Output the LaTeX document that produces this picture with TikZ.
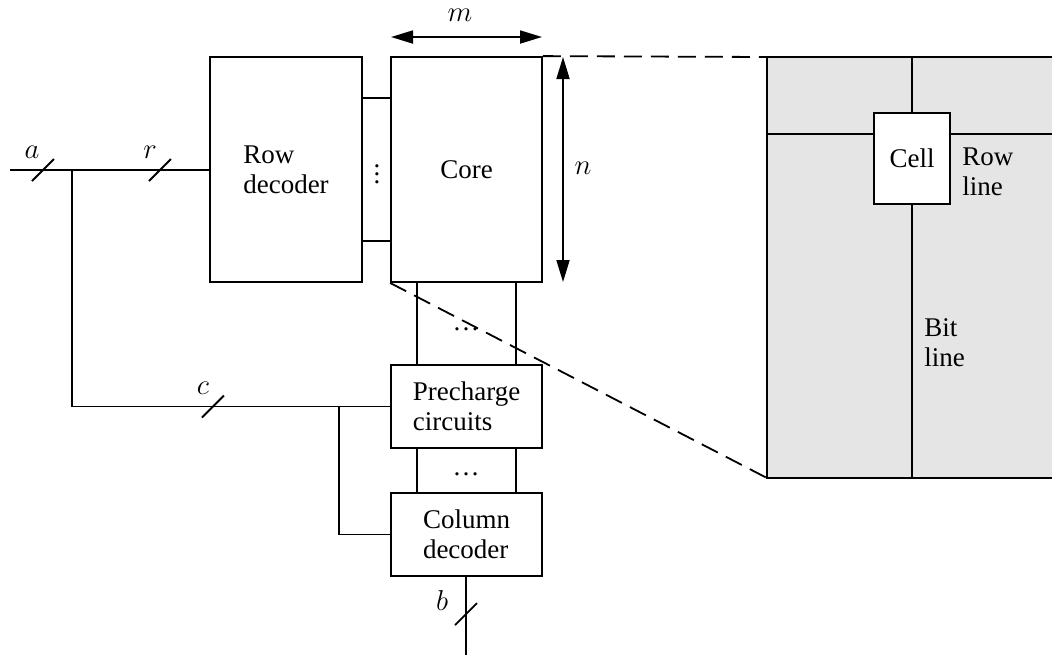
\documentclass[tikz,border=0pt]{standalone}
\usepackage{fontspec}
\setmainfont{Liberation Serif}
\usetikzlibrary{arrows.meta}
\tikzset{
  blk/.style={draw, line width=0.9pt, fill=white, inner sep=0pt, align=left, font=\fontsize{13.5}{15}\selectfont},
  wire/.style={line width=0.9pt},
  dim/.style={line width=0.9pt, {Triangle[length=11pt,width=6.5pt]}-{Triangle[length=11pt,width=6.5pt]}},
  zoomline/.style={line width=0.9pt, dash pattern=on 9pt off 4.5pt},
  lbl/.style={font=\fontsize{13.5}{15}\selectfont, inner sep=0pt},
  bus/.pic={\draw[line width=0.9pt] (-11,11) -- (11,-11);}
}
\begin{document}
\begin{tikzpicture}[x=0.5pt,y=-0.5pt]
\useasboundingbox (0,0) rectangle (1052,655);

% enlarged core area
\fill[gray!20] (767,57) rectangle (1052,478);
\draw[wire] (1052,57) -- (767,57) -- (767,478) -- (1052,478);
\node[blk, minimum width=38pt, minimum height=45.5pt, align=center] (cell) at (912,158.5) {Cell};
\coordinate (ctop) at (912,57);
\coordinate (cbot) at (912,478);
\coordinate (rl) at (767,134);
\coordinate (rr) at (1052,134);
\draw[wire] (ctop) -- (cell.north);
\draw[wire] (cell.south) -- (cbot);
\draw[wire] (rl) -- (rl -| cell.west);
\draw[wire] (rr -| cell.east) -- (rr);
\node[lbl, anchor=west, align=left] (rowline) at (962,172) {Row\\line};
\node[lbl, anchor=west, align=left] (bitline) at (924,343) {Bit\\line};

% blocks
\node[blk, minimum width=76pt, minimum height=112.5pt] (rowdec) at (286,169.5) {Row\\decoder};
\node[blk, minimum width=75.5pt, minimum height=112.5pt] (core) at (466.5,169.5) {Core};
\node[blk, minimum width=75.5pt, minimum height=41.5pt] (prech) at (466.5,406.5) {Precharge\\circuits};
\node[blk, minimum width=75.5pt, minimum height=41.5pt] (coldec) at (466.5,534.5) {Column\\decoder};

% zoom lines
\coordinate (gtl) at (767,57);
\coordinate (gbl) at (767,478);
\draw[zoomline] (core.north east) -- (gtl);
\draw[zoomline] (core.south west) -- (gbl);

% row decoder to core
\draw[wire] (rowdec.east |- 0,98) -- (core.west |- 0,98);
\draw[wire] (rowdec.east |- 0,241) -- (core.west |- 0,241);
\node[lbl] (vd) at (377,168) {$\vdots$};

% core to precharge, precharge to column decoder
\draw[wire] (core.south -| 417,0) -- (prech.north -| 417,0);
\draw[wire] (core.south -| 516,0) -- (prech.north -| 516,0);
\draw[wire] (prech.south -| 417,0) -- (coldec.north -| 417,0);
\draw[wire] (prech.south -| 516,0) -- (coldec.north -| 516,0);
\node[lbl] (d1) at (466,329) {\dots};
\node[lbl] (d2) at (466,474) {\dots};

% dimensions
\coordinate (ml) at (391,37);
\coordinate (mr) at (542,37);
\draw[dim] (ml) -- (mr);
\node[lbl] (mlab) at (460,15) {$m$};
\coordinate (nt) at (563,57);
\coordinate (nb) at (563,282);
\draw[dim] (nt) -- (nb);
\node[lbl] (nlab) at (583,168) {$n$};

% address wiring
\coordinate (ain) at (10,170);
\coordinate (j1) at (72,170);
\coordinate (j2) at (339,406.5);
\draw[wire] (ain) -- (ain -| rowdec.west);
\draw[wire] (j1) |- (prech.west);
\draw[wire] (j2) |- (coldec.west);
\coordinate (bout) at (466,655);
\draw[wire] (coldec.south -| bout) -- (bout);

\pic at (43,170) {bus};
\pic at (160,170) {bus};
\pic at (213,406.5) {bus};
\pic at (466,614) {bus};
\node[lbl] (alab) at (32,152) {$a$};
\node[lbl] (rlab) at (150,152) {$r$};
\node[lbl] (clab) at (203,388) {$c$};
\node[lbl] (blab) at (442,600) {$b$};
\end{tikzpicture}
\end{document}
